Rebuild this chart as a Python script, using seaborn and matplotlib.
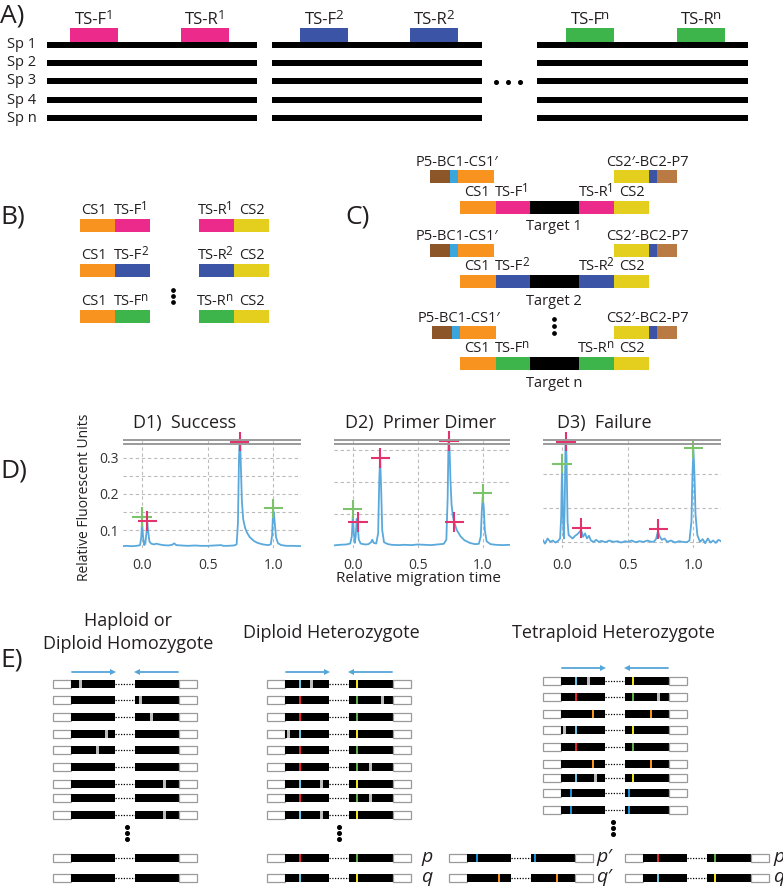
import matplotlib
matplotlib.use("Agg")
import matplotlib.pyplot as plt
import seaborn as sns
import pandas as pd
from matplotlib.patches import Rectangle

# ---------------------------------------------------------------- data
species = ["Sp 1", "Sp 2", "Sp 3", "Sp 4", "Sp n"]
targets = ["1", "2", "n"]
target_colors = ["#EC2A8B", "#3C54A5", "#3DB54A"]
adapter_left = ["P5", "BC1", "CS1'"]
adapter_right = ["CS2'", "BC2", "P7"]

# D) electropherograms (relative migration time, relative fluorescent units)
d1_time = [-0.15, -0.12, -0.08, -0.04, -0.015, -0.006, 0.0, 0.007, 0.016, 0.025, 0.033, 0.04,
           0.047, 0.056, 0.07, 0.09, 0.11, 0.13, 0.16, 0.2, 0.23, 0.245, 0.26, 0.3, 0.35, 0.4,
           0.45, 0.5, 0.55, 0.6, 0.62, 0.65, 0.7, 0.72, 0.73, 0.738, 0.745, 0.752, 0.76, 0.77,
           0.785, 0.8, 0.82, 0.85, 0.88, 0.92, 0.96, 0.98, 0.99, 0.997, 1.003, 1.01, 1.02,
           1.035, 1.06, 1.1, 1.15, 1.22]
d1_rfu = [0.055, 0.056, 0.055, 0.056, 0.058, 0.08, 0.124, 0.085, 0.058, 0.062, 0.09, 0.12,
          0.095, 0.068, 0.062, 0.06, 0.062, 0.06, 0.058, 0.057, 0.059, 0.063, 0.058, 0.057,
          0.056, 0.057, 0.056, 0.056, 0.057, 0.058, 0.056, 0.056, 0.057, 0.06, 0.12, 0.30,
          0.37, 0.28, 0.18, 0.13, 0.105, 0.092, 0.08, 0.07, 0.064, 0.06, 0.058, 0.06, 0.085,
          0.145, 0.15, 0.12, 0.08, 0.063, 0.058, 0.056, 0.056, 0.055]
d1_peak_t = [0.0, 0.04, 0.745, 1.0]
d1_peak_y = [0.136, 0.125, 0.345, 0.16]
d1_peak_k = ["marker", "call", "call", "marker"]

d2_time = [-0.15, -0.1, -0.05, -0.02, -0.008, 0.0, 0.008, 0.015, 0.022, 0.03, 0.038, 0.046,
           0.06, 0.08, 0.1, 0.12, 0.14, 0.15, 0.16, 0.18, 0.195, 0.203, 0.21, 0.218, 0.226,
           0.24, 0.27, 0.3, 0.35, 0.4, 0.45, 0.5, 0.55, 0.6, 0.65, 0.7, 0.72, 0.73, 0.737,
           0.745, 0.752, 0.76, 0.77, 0.78, 0.8, 0.83, 0.86, 0.9, 0.94, 0.97, 0.985, 0.993,
           1.0, 1.008, 1.016, 1.03, 1.06, 1.1, 1.15, 1.22]
d2_rfu = [0.102, 0.104, 0.105, 0.108, 0.13, 0.195, 0.14, 0.11, 0.13, 0.185, 0.16, 0.12,
          0.108, 0.106, 0.105, 0.106, 0.112, 0.12, 0.11, 0.108, 0.14, 0.30, 0.375, 0.28,
          0.15, 0.112, 0.106, 0.104, 0.103, 0.104, 0.103, 0.105, 0.104, 0.103, 0.105, 0.107,
          0.12, 0.25, 0.44, 0.40, 0.30, 0.23, 0.195, 0.175, 0.15, 0.13, 0.118, 0.11, 0.106,
          0.107, 0.13, 0.21, 0.253, 0.22, 0.15, 0.115, 0.106, 0.104, 0.103, 0.104]
d2_peak_t = [0.0, 0.04, 0.21, 0.74, 0.78, 1.0]
d2_peak_y = [0.215, 0.175, 0.375, 0.428, 0.175, 0.265]
d2_peak_k = ["marker", "call", "call", "call", "call", "marker"]

d3_time = [-0.15, -0.13, -0.11, -0.09, -0.07, -0.05, -0.03, -0.015, -0.007, 0.0, 0.008,
           0.014, 0.02, 0.027, 0.034, 0.042, 0.05, 0.065, 0.08, 0.1, 0.115, 0.13, 0.145,
           0.16, 0.175, 0.19, 0.205, 0.22, 0.24, 0.26, 0.28, 0.3, 0.33, 0.36, 0.39, 0.42,
           0.45, 0.48, 0.5, 0.53, 0.56, 0.59, 0.62, 0.65, 0.68, 0.7, 0.715, 0.73, 0.745,
           0.76, 0.78, 0.8, 0.83, 0.86, 0.89, 0.92, 0.95, 0.97, 0.985, 0.993, 1.0, 1.008,
           1.016, 1.03, 1.05, 1.07, 1.09, 1.11, 1.13, 1.15, 1.17, 1.19, 1.22]
d3_rfu = [0.108, 0.095, 0.11, 0.1, 0.104, 0.098, 0.103, 0.11, 0.17, 0.33, 0.16, 0.11, 0.2,
          0.42, 0.35, 0.16, 0.12, 0.115, 0.11, 0.118, 0.122, 0.128, 0.135, 0.115, 0.125,
          0.11, 0.118, 0.104, 0.1, 0.106, 0.1, 0.103, 0.099, 0.104, 0.1, 0.102, 0.098, 0.102,
          0.1, 0.104, 0.099, 0.102, 0.1, 0.104, 0.1, 0.101, 0.108, 0.13, 0.115, 0.106, 0.11,
          0.1, 0.104, 0.098, 0.102, 0.1, 0.099, 0.104, 0.16, 0.3, 0.37, 0.3, 0.18, 0.12, 0.1,
          0.108, 0.096, 0.11, 0.098, 0.104, 0.097, 0.106, 0.1]
d3_peak_t = [0.0, 0.03, 0.145, 0.733, 1.0]
d3_peak_y = [0.33, 0.395, 0.141, 0.138, 0.376]
d3_peak_k = ["marker", "call", "call", "call", "marker"]

d_titles = ["D1)  Success", "D2)  Primer Dimer", "D3)  Failure"]
x_ticks = [0.0, 0.5, 1.0]
x_ticklabels = ["0.0", "0.5", "1.0"]
d1_yticks = [0.1, 0.15, 0.2, 0.25, 0.3]
d1_yticklabels = ["0.1", "", "0.2", "", "0.3"]

# E) reads: gray = sequencing error, coloured = allele-specific SNP
hap_gaps = [[27], [87], [98], [53], [44], [], [111], [], [111]]
dip_alleles = ["q", "p", "p", "q", "p", "p", "q", "p", "q"]
dip_gaps = [[44], [115], [], [21], [], [103], [54], [103], [54]]
tet_alleles = ["q", "p", "q'", "q", "p", "q'", "q", "p'", "p'"]
tet_gaps = [[45], [115], [], [21], [], [], [52], [], []]
allele_snps = {
    "p": [(33, "#E1262B"), (90, "#5FB14B")],
    "q": [(33, "#6EC6E6"), (90, "#F2E51A")],
    "p'": [(28, "#1E8FD6"), (86, "#1E8FD6")],
    "q'": [(50, "#F7931E"), (108, "#F7931E")],
}

# ---------------------------------------------------------------- style
sns.set_theme(style="white")
plt.rcParams['font.family'] = ['Open Sans', 'DejaVu Sans']
TXT = "#231F20"
ORANGE, YELLOW = "#F7931E", "#E4CF1E"
BROWN, LBLUE, COPPER = "#8C5628", "#3AA6DD", "#B97A43"

W, H = 783, 889
fig = plt.figure(figsize=(W / 100, H / 100), dpi=100)


def frac(x0, y0, x1, y1):
    return [x0 / W, 1 - y1 / H, (x1 - x0) / W, (y1 - y0) / H]


# ---------------------------------------------------------------- panel D axes
d_boxes = [(123, 440, 301, 548), (334, 440, 510, 548), (543, 440, 721, 548)]
d_ylims = [(0.05, 0.35), (0.094, 0.431), (0.082, 0.40)]
d_grids = [d1_yticks, [0.2, 0.3, 0.4], [0.1, 0.2, 0.3]]
series = [(d1_time, d1_rfu, d1_peak_t, d1_peak_y, d1_peak_k),
          (d2_time, d2_rfu, d2_peak_t, d2_peak_y, d2_peak_k),
          (d3_time, d3_rfu, d3_peak_t, d3_peak_y, d3_peak_k)]
for i, (bx, yl, gy, (t, r, pt, py, pk)) in enumerate(zip(d_boxes, d_ylims, d_grids, series)):
    ax = fig.add_axes(frac(*bx))
    ax.set_facecolor("white")
    df = pd.DataFrame({"t": t, "rfu": r})
    sns.lineplot(data=df, x="t", y="rfu", ax=ax, color="#5AA9DC", lw=1.3,
                 sort=False, estimator=None)
    pdf = pd.DataFrame({"t": pt, "rfu": py, "kind": pk})
    sns.scatterplot(data=pdf, x="t", y="rfu", hue="kind", ax=ax,
                    palette={"marker": "#7DC36B", "call": "#E2336C"},
                    marker="+", s=190, linewidth=1.5, legend=False, zorder=5, clip_on=False)
    ax.set_xlim(-0.145, 1.21)
    ax.set_ylim(*yl)
    ax.set_xticks(x_ticks)
    ax.set_xticklabels(x_ticklabels)
    ax.set_yticks(gy)
    if i == 0:
        ax.set_yticklabels(d1_yticklabels)
    else:
        ax.set_yticklabels([])
    ax.grid(True, color="#BBBBBB", lw=0.8, ls=(0, (3, 2.5)))
    ax.tick_params(axis="x", length=0, pad=7, labelsize=10, labelcolor="#333333")
    ax.tick_params(axis="y", length=0, pad=3, labelsize=10, labelcolor="#333333")
    ax.set_xlabel("")
    ax.set_ylabel("")
    for s in ax.spines.values():
        s.set_visible(False)

# ---------------------------------------------------------------- overlay for schematic
ax0 = fig.add_axes([0, 0, 1, 1])
ax0.set_xlim(0, W)
ax0.set_ylim(H, 0)
ax0.axis("off")
renderer = fig.canvas.get_renderer()


def box(x0, x1, yc, h, fc, ec="none", lw=0.0, z=2):
    ax0.add_patch(Rectangle((x0, yc - h / 2), x1 - x0, h, facecolor=fc,
                            edgecolor=ec, linewidth=lw, zorder=z))


def txt(x, y, s, size, ha="center", va="center", **kw):
    kw.setdefault("color", TXT)
    return ax0.text(x, y, s, fontsize=size, ha=ha, va=va, **kw)


def sup_txt(xc, y, base, s, size):
    t1 = txt(0, y, base, size, ha="left")
    t2 = txt(0, y - 0.36 * size, s, size * 0.8, ha="left")
    w1 = t1.get_window_extent(renderer).width
    w2 = t2.get_window_extent(renderer).width
    gap = -0.12 * size
    x0 = xc - (w1 + w2 + gap) / 2
    t1.set_x(x0)
    t2.set_x(x0 + w1 + gap)


def vdots(x, ys, ms=2.6):
    ax0.plot([x] * len(ys), ys, "o", color="black", ms=ms, zorder=3)


PANEL = 19
# ---------------- A
txt(0, 16, "A)", PANEL, ha="left")
seg_x = [(47, 257), (272, 482), (537, 748)]
row_y = [45, 63, 81, 100, 118]
f_box = [70, 300, 566]
r_box = [181, 410, 677]
for k, (tid, col) in enumerate(zip(targets, target_colors)):
    for y in row_y:
        box(seg_x[k][0], seg_x[k][1], y, 6, "black")
    box(f_box[k], f_box[k] + 48, 35, 14, col)
    box(r_box[k], r_box[k] + 48, 35, 14, col)
    sup_txt(f_box[k] + 24, 20, "TS-F", tid, 12)
    sup_txt(r_box[k] + 24, 20, "TS-R", tid, 12)
for sp, y in zip(species, row_y):
    txt(7, y, sp, 10.5, ha="left")
ax0.plot([496, 508, 520], [82, 82, 82], "o", color="black", ms=2.6)

# ---------------- B
txt(0, 217, "B)", PANEL, ha="left")
b_y = [225.5, 270.5, 316.5]
for k, (tid, col) in enumerate(zip(targets, target_colors)):
    y = b_y[k]
    box(80, 115, y, 13, ORANGE)
    box(115, 150, y, 13, col)
    box(199, 234, y, 13, col)
    box(234, 269, y, 13, YELLOW)
    txt(94, y - 15, "CS1", 10.5)
    sup_txt(131, y - 15, "TS-F", tid, 10.5)
    sup_txt(215, y - 15, "TS-R", tid, 10.5)
    txt(252, y - 15, "CS2", 10.5)
vdots(173, [290, 296, 302], ms=2.4)

# ---------------- C
txt(345, 217, "C)", PANEL, ha="left")
c_y = [207, 281.5, 363.5]
c_shift = [0, 0, 2]
for k, (tid, col) in enumerate(zip(targets, target_colors)):
    y = c_y[k]
    ya = y - 31
    s = c_shift[k]
    box(430 + s, 450 + s, ya, 13, BROWN)
    box(450 + s, 458 + s, ya, 13, LBLUE)
    box(458 + s, 494 + s, ya, 13, ORANGE)
    box(614, 649, ya, 13, YELLOW)
    box(649, 657, ya, 13, "#3C54A5")
    box(657, 677, ya, 13, COPPER)
    txt(457 + s, ya - 14, "-".join(adapter_left).replace("'", "\u2032"), 10.5)
    txt(647, ya - 14, "-".join(adapter_right).replace("'", "\u2032"), 10.5)
    box(460, 496, y, 13, ORANGE)
    box(496, 530, y, 13, col)
    box(530, 579, y, 13, "black")
    box(579, 614, y, 13, col)
    box(614, 649, y, 13, YELLOW)
    txt(477, y - 15, "CS1", 10.5)
    sup_txt(512, y - 15, "TS-F", tid, 10.5)
    sup_txt(596, y - 15, "TS-R", tid, 10.5)
    txt(632, y - 15, "CS2", 10.5)
    txt(554, y + 20, "Target " + tid, 10.5)
vdots(554, [319, 326, 333], ms=2.4)

# ---------------- D
txt(0, 471, "D)", PANEL, ha="left")
title_x = [133, 345, 557]
for (x0, y0, x1, y1), tt, tx in zip(d_boxes, d_titles, title_x):
    ax0.plot([x0, x1], [440, 440], color="#9A9A9A", lw=1.4, solid_capstyle="butt")
    ax0.plot([x0, x1], [443.5, 443.5], color="#9A9A9A", lw=1.4, solid_capstyle="butt")
    txt(tx, 423, tt, 13, ha="left")
txt(85, 497, "Relative Fluorescent Units", 10, rotation=90)
txt(418, 579, "Relative migration time", 11)

# ---------------- E
txt(0, 660, "E)", PANEL, ha="left")
txt(128, 621, "Haploid or", 13)
txt(128, 644, "Diploid Homozygote", 13)
txt(331, 633, "Diploid Heterozygote", 13)
txt(614, 633, "Tetraploid Heterozygote", 13)


def read(x0, y, snps=(), gaps=(), h=8.5):
    box(x0, x0 + 18, y, h, "white", ec="#9A9A9A", lw=0.9)
    box(x0 + 18, x0 + 62, y, h, "black")
    ax0.plot([x0 + 62, x0 + 82], [y, y], color="black", lw=0.9, ls=(0, (1, 1.2)))
    box(x0 + 82, x0 + 126, y, h, "black")
    box(x0 + 126, x0 + 144, y, h, "white", ec="#9A9A9A", lw=0.9)
    for gx in gaps:
        box(x0 + gx - 1.5, x0 + gx + 1.5, y, h, "#BDBDBD", z=3)
    for sx, c in snps:
        box(x0 + sx - 1.3, x0 + sx + 1.3, y, h, c, z=3)


ARROW = "#55A6D8"


def arrows(x0, y):
    ax0.plot([x0 + 19, x0 + 59], [y, y], color=ARROW, lw=1.3)
    ax0.plot([x0 + 60], [y], marker=">", ms=5, color=ARROW, mew=0)
    ax0.plot([x0 + 85, x0 + 125], [y, y], color=ARROW, lw=1.3)
    ax0.plot([x0 + 84], [y], marker="<", ms=5, color=ARROW, mew=0)


upper_y = [684, 700, 717, 734, 750, 767, 784, 798, 815]
tet_y = [681, 697, 714, 730, 747, 764, 778, 793, 810]
low_y = [858, 878]

arrows(53, 672)
for y, g in zip(upper_y, hap_gaps):
    read(53, y, gaps=g)
for y in low_y:
    read(53, y)
vdots(127, [827, 833, 839])

arrows(267, 672)
for y, a, g in zip(upper_y, dip_alleles, dip_gaps):
    read(267, y, snps=allele_snps[a], gaps=g)
for y, a in zip(low_y, ["p", "q"]):
    read(267, y, snps=allele_snps[a])
    txt(421, y - 1, a, 14, ha="left", style="italic")
vdots(339, [827, 833, 839])

arrows(543, 668)
for y, a, g in zip(tet_y, tet_alleles, tet_gaps):
    read(543, y, snps=allele_snps[a], gaps=g)
for y, a in zip(low_y, ["p'", "q'"]):
    read(449, y, snps=allele_snps[a])
    txt(596, y - 1, a.replace("'", "\u2032"), 14, ha="left", style="italic")
for y, a in zip(low_y, ["p", "q"]):
    read(625, y, snps=allele_snps[a])
    txt(773, y - 1, a, 14, ha="left", style="italic")
vdots(613, [822, 828, 834])

fig.savefig("out.png", dpi=100, facecolor="white")
